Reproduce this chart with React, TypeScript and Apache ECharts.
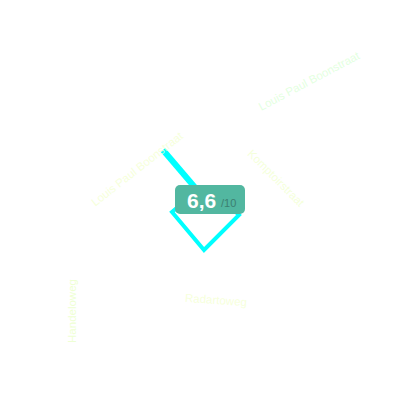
import React, { useEffect, useRef } from "react";
import * as echarts from "echarts";

const thickRoute = [[163, 150], [198, 191]];
const thinRoute = [[185, 201], [172, 212], [204, 250], [239, 215], [228, 204]];
const streetNames = ["Louis Paul Boonstraat", "Louis Paul Boonstraat", "Komptoirstraat", "Radartoweg", "Handeloweg"];
const streetPoints = [[137, 169], [309, 81], [276, 178], [216, 300], [72, 311]];
const streetAngles = [38, 28, -45, -4, 90];
const streetColors = ["#f4ffd2", "#dcffd8", "#f2ffd2", "#f4ffd2", "#eaffc8"];
const scoreValue = "6,6";
const scoreMax = "/10";

export default function App() {
  const ref = useRef<HTMLDivElement>(null);
  useEffect(() => {
    document.body.style.margin = "0";
    const chart = echarts.init(ref.current!, null, { renderer: "svg" });
    chart.setOption({
      animation: false,
      backgroundColor: "#ffffff",
      grid: { left: 0, right: 0, top: 0, bottom: 0 },
      xAxis: { type: "value", min: 0, max: 400, show: false },
      yAxis: { type: "value", min: 0, max: 400, inverse: true, show: false },
      series: [
        {
          type: "line",
          data: thickRoute,
          symbol: "none",
          z: 2,
          lineStyle: { color: "#00ffff", width: 6 },
        },
        {
          type: "line",
          data: thinRoute,
          symbol: "none",
          z: 2,
          lineStyle: { color: "#00ffff", width: 4, join: "miter" },
        },
        {
          type: "scatter",
          symbolSize: 0,
          z: 2,
          data: streetNames.map((name, i) => ({
            name,
            value: streetPoints[i],
            label: {
              show: true,
              position: "inside",
              formatter: name,
              rotate: streetAngles[i],
              color: streetColors[i],
              fontSize: 11.5,
              fontFamily: "Liberation Sans",
              align: "center",
              verticalAlign: "middle",
            },
          })),
        },
      ],
      graphic: {
        elements: [
          { type: "rect", z: 100, zlevel: 1, x: 175, y: 185, shape: { x: 0, y: 0, width: 70, height: 29, r: 5 }, style: { fill: "#52b7a0" } },
          {
            type: "text",
            z: 101,
            zlevel: 1,
            x: 187,
            y: 190,
            style: { text: scoreValue, fill: "#ffffff", font: "bold 21px 'Liberation Sans'" },
          },
          {
            type: "text",
            z: 101,
            zlevel: 1,
            x: 221,
            y: 197,
            style: { text: scoreMax, fill: "#3c7f70", font: "11px 'Liberation Sans'" },
          },
        ],
      },
    });
    return () => chart.dispose();
  }, []);
  return <div ref={ref} style={{ width: 400, height: 400 }} />;
}
